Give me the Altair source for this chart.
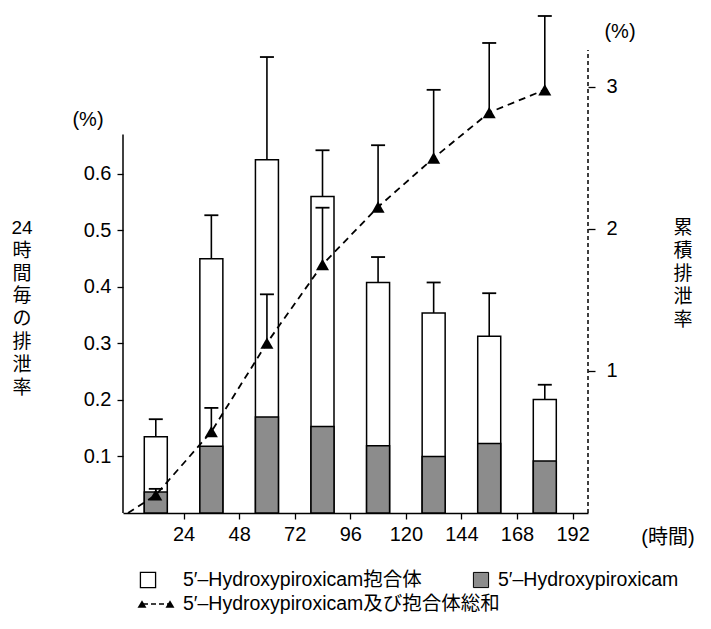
import altair as alt
import pandas as pd

# ---- data ----
hours = [12, 36, 60, 84, 108, 132, 156, 180]
total_rate = [0.135, 0.450, 0.625, 0.560, 0.408, 0.354, 0.313, 0.201]   # 5'-OH + conjugate (per 24 h, %)
total_sd = [0.031, 0.077, 0.182, 0.082, 0.045, 0.054, 0.076, 0.026]
free_rate = [0.037, 0.118, 0.170, 0.153, 0.119, 0.100, 0.123, 0.092]    # 5'-Hydroxypiroxicam
cum_rate = [0.127, 0.573, 1.197, 1.750, 2.155, 2.500, 2.820, 2.980]     # cumulative (%)
cum_sd = [0.043, 0.167, 0.343, 0.400, 0.435, 0.480, 0.490, 0.520]
x_ticks = [24, 48, 72, 96, 120, 144, 168, 192]
left_ticks = [0.1, 0.2, 0.3, 0.4, 0.5, 0.6]
right_ticks = [1, 2, 3]
left_title = ["24", "時", "間", "毎", "の", "排", "泄", "率"]
right_title = ["累", "積", "排", "泄", "率"]
legend_labels = ["5′–Hydroxypiroxicam抱合体", "5′–Hydroxypiroxicam", "5′–Hydroxypiroxicam及び抱合体総和"]

bars = pd.DataFrame({
    "t": hours,
    "total": total_rate,
    "top": [a + b for a, b in zip(total_rate, total_sd)],
    "free": free_rate,
})
cum = pd.DataFrame({
    "t": hours,
    "cum": cum_rate,
    "top": [a + b for a, b in zip(cum_rate, cum_sd)],
})
line = pd.DataFrame({"t": [0] + hours, "cum": [0] + cum_rate})
one = pd.DataFrame({"a": [0]})

W, H = 465, 498
FONT = "Liberation Sans, Arial, Helvetica, sans-serif"
JFONT = "Liberation Sans, 'Noto Sans CJK JP', sans-serif"
GRAY = "#8c8c8c"

xs = alt.Scale(domain=[0, 196.5], nice=False, zero=False)
ly = alt.Scale(domain=[0, 0.8814], nice=False, zero=True)
ry = alt.Scale(domain=[0, 3.507], nice=False, zero=True)

x_axis = alt.Axis(values=x_ticks, title=None, grid=False, tickSize=6, tickWidth=1.3,
                  tickColor="black", domainColor="black", domainWidth=1.5,
                  labelPadding=5, labelFontSize=20)
l_axis = alt.Axis(orient="left", values=left_ticks, format=".1f", title=None, grid=False,
                  domain=False, tickSize=6, tickWidth=1.3, tickColor="black",
                  labelPadding=6, labelFontSize=20)
r_axis = alt.Axis(orient="right", values=right_ticks, format="d", title=None, grid=False,
                  domain=False, tickSize=7, tickWidth=1.3, tickColor="black",
                  labelPadding=11, labelFontSize=20)

X = alt.X("t:Q", scale=xs, axis=x_axis)

# ---- left (per 24 h) layers ----
b_total = alt.Chart(bars).mark_bar(width=23, orient="vertical", fill="white", stroke="black",
                                   strokeWidth=1.5).encode(
    x=X, y=alt.Y("total:Q", scale=ly, axis=l_axis))
b_free = alt.Chart(bars).mark_bar(width=23, orient="vertical", fill=GRAY, stroke="black",
                                  strokeWidth=1.5).encode(
    x=X, y=alt.Y("free:Q", scale=ly, axis=l_axis))
b_err = alt.Chart(bars).mark_rule(color="black", strokeWidth=1.6).encode(
    x=X, y=alt.Y("total:Q", scale=ly, axis=l_axis), y2="top:Q")
b_cap = alt.Chart(bars).mark_rule(color="black", strokeWidth=1.8, xOffset=-7, x2Offset=7).encode(
    x=X, x2="t:Q", y=alt.Y("top:Q", scale=ly, axis=l_axis))
l_line = alt.Chart(one).mark_rule(color="black", strokeWidth=1.5).encode(
    x=alt.value(0), y=alt.Y(datum=0, scale=ly, axis=l_axis), y2=alt.datum(0.67))

left = alt.layer(b_total, b_free, b_err, b_cap, l_line)

# ---- right (cumulative) layers ----
c_line = alt.Chart(line).mark_line(color="black", strokeWidth=1.8, strokeDash=[7, 5]).encode(
    x=X, y=alt.Y("cum:Q", scale=ry, axis=r_axis))
c_err = alt.Chart(cum).mark_rule(color="black", strokeWidth=1.6).encode(
    x=X, y=alt.Y("cum:Q", scale=ry, axis=r_axis), y2="top:Q")
c_cap = alt.Chart(cum).mark_rule(color="black", strokeWidth=1.8, xOffset=-7, x2Offset=7).encode(
    x=X, x2="t:Q", y=alt.Y("top:Q", scale=ry, axis=r_axis))
c_pts = alt.Chart(cum).mark_point(shape="triangle-up", filled=True, size=170, color="black",
                                  opacity=1).encode(
    x=X, y=alt.Y("cum:Q", scale=ry, axis=r_axis))
r_line = alt.Chart(one).mark_rule(color="black", strokeWidth=1.5, strokeDash=[4, 3]).encode(
    x=alt.value(W), y=alt.Y(datum=0, scale=ry, axis=r_axis), y2=alt.datum(3.26))

right = alt.layer(c_line, c_err, c_cap, c_pts, r_line)

# ---- texts & legend (decorations) ----
def txt(text, x, y, align="center", baseline="middle", size=20, font=JFONT, lh=None):
    kw = dict(align=align, baseline=baseline, fontSize=size, font=font, color="black")
    if lh:
        kw["lineHeight"] = lh
    return alt.Chart(one).mark_text(**kw).encode(
        x=alt.value(x), y=alt.value(y), text=alt.value(text))

decor = [
    txt(left_title, -101, 204, baseline="top", size=19, lh=22.8),
    txt(right_title, 560, 204, baseline="top", size=19, lh=23),
    txt("(%)", -35, 105),
    txt("(%)", 497, 17),
    txt("(時間)", 545, 523),
    txt(legend_labels[0], 60, 565, align="left", size=19.5),
    txt(legend_labels[1], 375, 565, align="left", size=19.5),
    txt(legend_labels[2], 60, 589, align="left", size=19.5),
    alt.Chart(one).mark_point(shape="square", size=230, filled=True, fill="white",
                              stroke="black", strokeWidth=1.3, opacity=1).encode(
        x=alt.value(25), y=alt.value(565)),
    alt.Chart(one).mark_point(shape="square", size=230, filled=True, fill=GRAY,
                              stroke="black", strokeWidth=1.0, opacity=1).encode(
        x=alt.value(358), y=alt.value(565)),
    alt.Chart(one).mark_rule(color="black", strokeWidth=1.6, strokeDash=[5, 3]).encode(
        x=alt.value(20), x2=alt.value(47), y=alt.value(589)),
    alt.Chart(one).mark_point(shape="triangle-up", filled=True, size=80, color="black",
                              opacity=1).encode(x=alt.value(19), y=alt.value(589)),
    alt.Chart(one).mark_point(shape="triangle-up", filled=True, size=80, color="black",
                              opacity=1).encode(x=alt.value(47), y=alt.value(589)),
]

chart = alt.layer(
    alt.layer(left, right).resolve_scale(y="independent"),
    *decor,
).properties(
    width=W, height=H,
    autosize=alt.AutoSizeParams(type="none"),
    padding={"left": 115, "top": 7, "right": 110, "bottom": 106},
).configure_view(stroke=None).configure_axis(
    labelFont=FONT, labelColor="black"
)

chart.save("out.html", embed_options={"renderer": "svg", "actions": False})
